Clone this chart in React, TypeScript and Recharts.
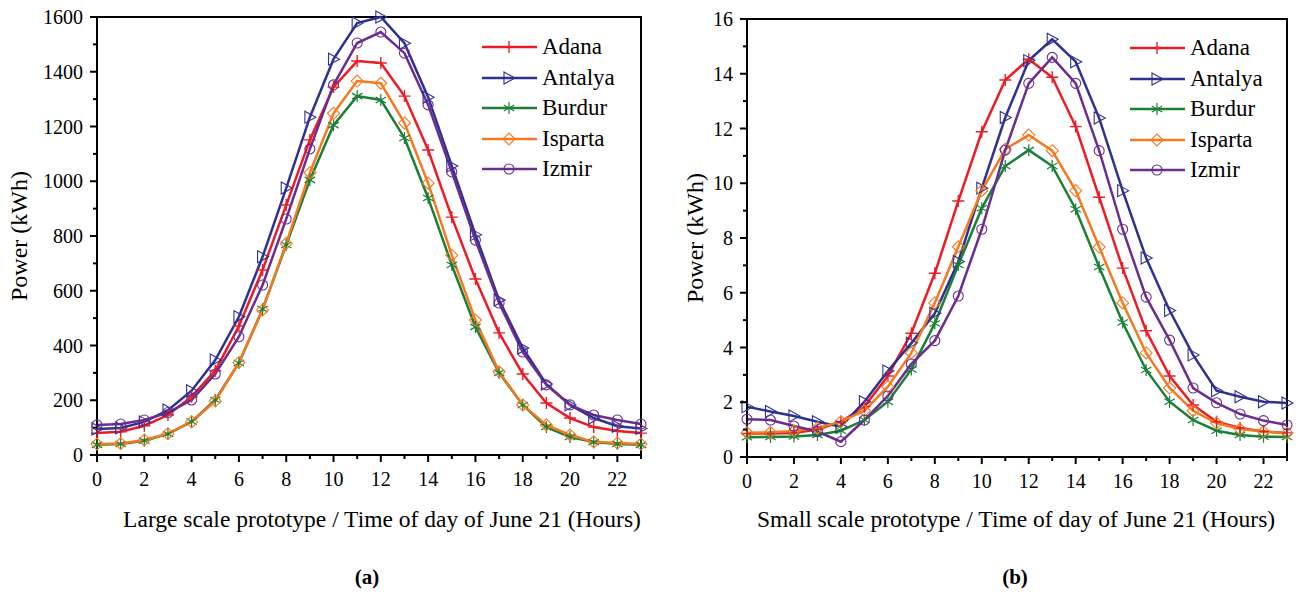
import React from "react";
import { LineChart, Line, XAxis, YAxis, Legend, ReferenceArea, Label } from "recharts";

const FONT = '"Liberation Serif", "Times New Roman", serif';

const hours = [0, 1, 2, 3, 4, 5, 6, 7, 8, 9, 10, 11, 12, 13, 14, 15, 16, 17, 18, 19, 20, 21, 22, 23];

// (a) large scale prototype, kWh
const adanaL = [80, 85, 107, 146, 213, 308, 471, 676, 913, 1151, 1344, 1439, 1432, 1311, 1114, 869, 643, 446, 296, 190, 135, 102, 88, 80];
const antalyaL = [95, 99, 121, 164, 235, 347, 505, 724, 975, 1234, 1446, 1578, 1600, 1504, 1307, 1056, 805, 566, 391, 259, 183, 135, 105, 97];
const burdurL = [37, 40, 52, 77, 122, 201, 336, 533, 767, 1005, 1205, 1311, 1297, 1158, 939, 694, 468, 300, 183, 102, 66, 47, 40, 37];
const ispartaL = [40, 42, 55, 78, 121, 197, 338, 530, 773, 1031, 1248, 1366, 1358, 1213, 993, 730, 493, 304, 183, 110, 73, 48, 44, 40];
const izmirL = [110, 113, 128, 155, 201, 296, 432, 621, 862, 1118, 1352, 1505, 1545, 1468, 1279, 1034, 785, 555, 376, 256, 183, 146, 128, 113];

// (b) small scale prototype, kWh
const adanaS = [0.86, 0.86, 0.88, 1.0, 1.29, 1.84, 2.96, 4.52, 6.71, 9.35, 11.88, 13.77, 14.53, 13.87, 12.07, 9.49, 6.9, 4.61, 2.96, 1.9, 1.29, 1.06, 0.93, 0.88];
const antalyaS = [1.84, 1.66, 1.5, 1.29, 1.11, 2.02, 3.14, 4.16, 5.25, 7.14, 9.82, 12.4, 14.48, 15.26, 14.44, 12.38, 9.73, 7.27, 5.35, 3.73, 2.42, 2.2, 2.02, 1.97];
const burdurS = [0.72, 0.73, 0.75, 0.8, 0.96, 1.35, 2.02, 3.2, 4.88, 7.01, 9.09, 10.63, 11.21, 10.63, 9.05, 6.94, 4.91, 3.18, 2.02, 1.35, 0.96, 0.8, 0.74, 0.73];
const ispartaS = [0.89, 0.9, 0.95, 1.06, 1.29, 1.69, 2.57, 3.8, 5.63, 7.68, 9.73, 11.24, 11.76, 11.19, 9.73, 7.67, 5.63, 3.8, 2.52, 1.69, 1.24, 1.02, 0.93, 0.88];
const izmirS = [1.38, 1.35, 1.13, 0.93, 0.56, 1.35, 2.23, 3.4, 4.25, 5.88, 8.32, 11.21, 13.65, 14.6, 13.65, 11.19, 8.32, 5.84, 4.27, 2.52, 1.98, 1.57, 1.33, 1.17];

const xTicks = [0, 1, 2, 3, 4, 5, 6, 7, 8, 9, 10, 11, 12, 13, 14, 15, 16, 17, 18, 19, 20, 21, 22, 23];
const yTicksL = [0, 100, 200, 300, 400, 500, 600, 700, 800, 900, 1000, 1100, 1200, 1300, 1400, 1500, 1600];
const yTicksS = [0, 1, 2, 3, 4, 5, 6, 7, 8, 9, 10, 11, 12, 13, 14, 15, 16];

const series = [
  { key: "adana", name: "Adana", color: "#ED1C24", shape: "plus" },
  { key: "antalya", name: "Antalya", color: "#2E3192", shape: "triangle" },
  { key: "burdur", name: "Burdur", color: "#1A7F37", shape: "star" },
  { key: "isparta", name: "Isparta", color: "#F47920", shape: "diamond" },
  { key: "izmir", name: "Izmir", color: "#6B2D90", shape: "circle" },
];

const largeRows = hours.map((h, i) => ({
  hour: h, adana: adanaL[i], antalya: antalyaL[i], burdur: burdurL[i], isparta: ispartaL[i], izmir: izmirL[i],
}));
const smallRows = hours.map((h, i) => ({
  hour: h, adana: adanaS[i], antalya: antalyaS[i], burdur: burdurS[i], isparta: ispartaS[i], izmir: izmirS[i],
}));

const Marker = ({ shape, cx, cy, color }: any) => {
  if (cx == null || cy == null) return null;
  if (shape === "plus") {
    return <path d={`M${cx - 6},${cy}H${cx + 6}M${cx},${cy - 6}V${cy + 6}`} stroke={color} strokeWidth={1.4} fill="none" />;
  }
  if (shape === "triangle") {
    return <path d={`M${cx - 5},${cy - 6}L${cx + 6},${cy}L${cx - 5},${cy + 6}Z`} stroke={color} strokeWidth={1.1} fill="none" />;
  }
  if (shape === "star") {
    const a = 6, b = 5.2, c = 3;
    return (
      <path
        d={`M${cx},${cy - a}V${cy + a}M${cx - b},${cy - c}L${cx + b},${cy + c}M${cx - b},${cy + c}L${cx + b},${cy - c}`}
        stroke={color} strokeWidth={1.2} fill="none"
      />
    );
  }
  if (shape === "diamond") {
    return <path d={`M${cx},${cy - 6}L${cx + 6},${cy}L${cx},${cy + 6}L${cx - 6},${cy}Z`} stroke={color} strokeWidth={1.1} fill="none" />;
  }
  return <circle cx={cx} cy={cy} r={5} stroke={color} strokeWidth={1.1} fill="none" />;
};

const XTick = (props: any) => {
  const { x, y, payload } = props;
  const v = payload.value;
  const major = v % 2 === 0;
  return (
    <g>
      <line x1={x} x2={x} y1={y} y2={y + (major ? 7 : 4)} stroke="#000" strokeWidth={2} />
      {major && (
        <text x={x} y={y + 31} textAnchor="middle" fontSize={20} fontFamily={FONT} fill="#000">
          {v}
        </text>
      )}
    </g>
  );
};

const makeYTick = (step: number) => (props: any) => {
  const { x, y, payload } = props;
  const v = payload.value;
  const major = v % step === 0;
  return (
    <g>
      <line x1={x - (major ? 7 : 4)} x2={x} y1={y} y2={y} stroke="#000" strokeWidth={2} />
      {major && (
        <text x={x - 14} y={y} dy="0.35em" textAnchor="end" fontSize={20} fontFamily={FONT} fill="#000">
          {v}
        </text>
      )}
    </g>
  );
};

const LegendBox = () => (
  <div style={{ fontFamily: FONT, fontSize: 23, color: "#000" }}>
    {series.map((s) => (
      <div key={s.key} style={{ display: "flex", alignItems: "center", height: 30.5 }}>
        <svg width={60} height={30} style={{ flex: "none" }}>
          <line x1={0} x2={55} y1={15} y2={15} stroke={s.color} strokeWidth={2.5} />
          <Marker shape={s.shape} cx={27} cy={15} color={s.color} />
        </svg>
        <span style={{ lineHeight: "30px", whiteSpace: "nowrap" }}>{s.name}</span>
      </div>
    ))}
  </div>
);

const Panel = ({ rows, yTicks, yMax, step, title, tag, titleX, tagX, margin, xHeight, legendLeft, legendTop, width, labelOffset }: any) => (
  <LineChart width={width} height={596} data={rows} margin={margin}>
    <XAxis
      dataKey="hour"
      type="number"
      domain={[0, 23]}
      ticks={xTicks}
      interval={0}
      tickSize={0}
      tickMargin={0}
      tickLine={false}
      tick={<XTick />}
      axisLine={{ stroke: "#000", strokeWidth: 2 }}
      height={xHeight}
    >
      <Label
        value={title}
        content={() => (
          <g>
            <text x={titleX} y={527} textAnchor="middle" fontSize={23.5} fontFamily={FONT} fill="#000">
              {title}
            </text>
            <text x={tagX} y={584} textAnchor="middle" fontSize={21} fontWeight="bold" fontFamily={FONT} fill="#000">
              {tag}
            </text>
          </g>
        )}
      />
    </XAxis>
    <YAxis
      type="number"
      domain={[0, yMax]}
      ticks={yTicks}
      interval={0}
      tickSize={0}
      tickMargin={0}
      tickLine={false}
      tick={makeYTick(step)}
      axisLine={{ stroke: "#000", strokeWidth: 2 }}
      width={97}
      label={{
        value: "Power (kWh)",
        angle: -90,
        position: "insideLeft",
        offset: labelOffset,
        style: { textAnchor: "middle", fontSize: 24, fontFamily: FONT, fill: "#000" },
      }}
    />
    <ReferenceArea x1={0} x2={23} y1={0} y2={yMax} fill="none" fillOpacity={0} stroke="#000" strokeWidth={2} />
    {series.map((s) => (
      <Line
        key={s.key}
        dataKey={s.key}
        name={s.name}
        type="linear"
        stroke={s.color}
        strokeWidth={2.5}
        isAnimationActive={false}
        activeDot={false}
        dot={(p: any) => <Marker key={`${s.key}-${p.index}`} shape={s.shape} cx={p.cx} cy={p.cy} color={s.color} />}
      />
    ))}
    <Legend
      layout="horizontal"
      align="center"
      verticalAlign="middle"
      content={<LegendBox />}
      wrapperStyle={{ left: legendLeft, top: legendTop, width: 180, height: 160 }}
    />
  </LineChart>
);

export default function App() {
  return (
    <div style={{ position: "absolute", left: 0, top: 0, width: 1301, height: 596, background: "#fff" }}>
      <div style={{ position: "absolute", left: 0, top: 0 }}>
        <Panel
          width={650}
          rows={largeRows}
          yTicks={yTicksL}
          yMax={1600}
          step={200}
          title="Large scale prototype / Time of day of June 21 (Hours)"
          tag="(a)"
          titleX={382}
          tagX={367}
          margin={{ top: 17, right: 9, left: 0, bottom: 0 }}
          xHeight={141}
          legendLeft={482}
          legendTop={32}
          labelOffset={18}
        />
      </div>
      <div style={{ position: "absolute", left: 650, top: 0 }}>
        <Panel
          width={651}
          rows={smallRows}
          yTicks={yTicksS}
          yMax={16}
          step={2}
          title="Small scale prototype / Time of day of June 21 (Hours)"
          tag="(b)"
          titleX={366}
          tagX={365}
          margin={{ top: 19, right: 14, left: 0, bottom: 0 }}
          xHeight={139}
          legendLeft={480}
          legendTop={33}
          labelOffset={44}
        />
      </div>
    </div>
  );
}
